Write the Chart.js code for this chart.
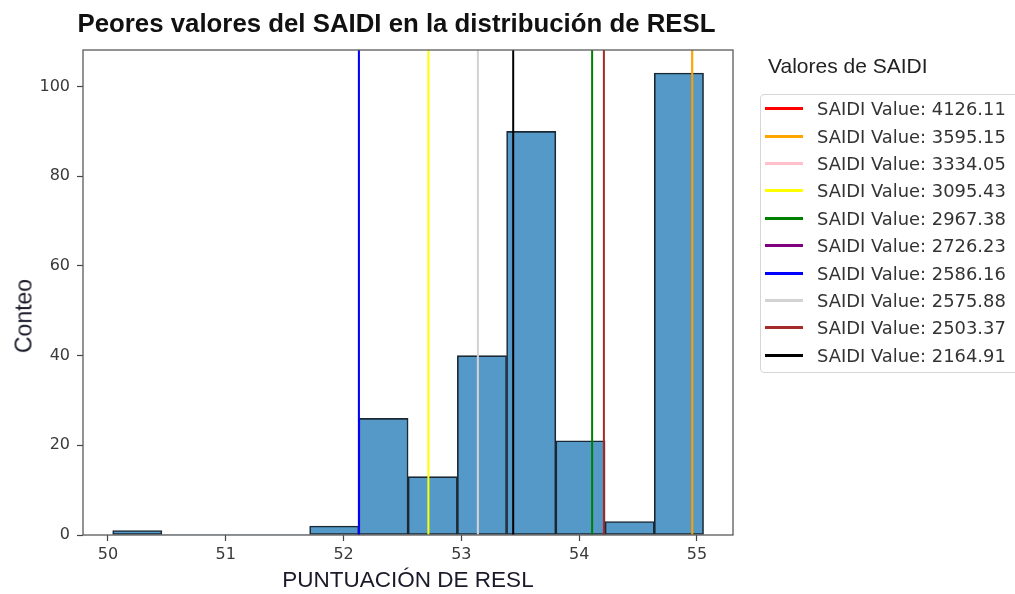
<!DOCTYPE html>
<html>
<head>
<meta charset="utf-8">
<script src="https://cdn.jsdelivr.net/npm/chart.js@4.4.1/dist/chart.umd.min.js"></script>
<style>
  html, body { margin: 0; padding: 0; background: #fff; }
  #wrap { position: relative; width: 1015px; height: 594px; overflow: hidden; }
  #chart { position: absolute; left: 0; top: 0; }
  #title {
    position: absolute; left: 0; top: 10px; width: 793px;
    text-align: center; white-space: nowrap;
    font: bold 25.8px/26px "Liberation Sans", Arial, sans-serif; color: #111;
  }
  #yTitle {
    position: absolute; left: 24px; top: 316px; white-space: nowrap;
    transform: translate(-50%, -50%) rotate(-90deg);
    font: 23px/23px "Liberation Sans", Arial, sans-serif; color: #1a1a2a;
  }
  #legendTitle {
    position: absolute; left: 768px; top: 55px; white-space: nowrap;
    font: 21px/21px "Liberation Sans", Arial, sans-serif; color: #222;
  }
  #legend {
    position: absolute; left: 760px; top: 94px; width: 270px; height: 279px;
    border: 1px solid #d6d6d6; border-radius: 4px; box-sizing: border-box;
  }
  .row { display: flex; align-items: center; height: 27.4px; white-space: nowrap; }
  .swatch { width: 38px; height: 3px; margin-left: 4px; margin-right: 14px; }
  .lbl { font: 17.9px "DejaVu Sans", sans-serif; color: #333; }
</style>
</head>
<body>
<div id="wrap">
  <canvas id="chart" width="1015" height="594"></canvas>
  <div id="title">Peores valores del SAIDI en la distribución de RESL</div>
  <div id="yTitle">Conteo</div>
  <div id="legendTitle">Valores de SAIDI</div>
  <div id="legend"></div>
</div>
<script>
// histogram of RESL scores: 12 equal bins
const binStart = 50.04;
const binWidth = 0.418;
const binCounts = [1, 0, 0, 0, 2, 26, 13, 40, 90, 21, 3, 103];

// worst SAIDI values and the RESL score where each one falls
const saidiValues = [4126.11, 3595.15, 3334.05, 3095.43, 2967.38, 2726.23, 2586.16, 2575.88, 2503.37, 2164.91];
const saidiScores = [54.96, 54.96, 53.14, 52.72, 54.11, 52.13, 52.13, 53.14, 54.21, 53.44];
const saidiColors = ["red", "orange", "pink", "yellow", "green", "purple", "blue", "lightgray", "brown", "black"];

const xTicks = [50, 51, 52, 53, 54, 55];
const yTicks = [0, 20, 40, 60, 80, 100];

const xMin = 49.788, xMax = 55.306;
const yMax = 108.15;

const histData = binCounts.map((c, i) => ({ x: binStart + (i + 0.5) * binWidth, y: c }));

const datasets = [{
    type: "bar",
    label: "RESL",
    data: histData,
    order: 100,
    backgroundColor: "#5599c8",
    borderColor: "#1a2833",
    borderWidth: ctx => (binCounts[ctx.dataIndex] ? 1.6 : 0),
    borderSkipped: false,
    barPercentage: 1,
    categoryPercentage: 1
}];

// one vertical line per SAIDI value, later ones drawn on top;
// a line that shares its x with a later one is drawn a bit thinner
saidiValues.forEach((v, i) => {
    const covered = saidiScores.indexOf(saidiScores[i], i + 1) !== -1;
    datasets.push({
        type: "line",
        label: "SAIDI Value: " + v.toFixed(2),
        data: [{ x: saidiScores[i], y: 0 }, { x: saidiScores[i], y: yMax }],
        order: -i,
        borderColor: saidiColors[i],
        borderWidth: covered ? 1.2 : 2,
        pointRadius: 0,
        fill: false
    });
});

// box around the plotting area
const frame = {
    id: "frame",
    afterDraw(chart) {
        const { ctx, chartArea: a } = chart;
        ctx.save();
        ctx.strokeStyle = "#5a5a5a";
        ctx.lineWidth = 1.3;
        ctx.strokeRect(a.left, a.top, a.right - a.left, a.bottom - a.top);
        ctx.restore();
    }
};

const tickFont = { family: "DejaVu Sans", size: 16 };

const chart = new Chart(document.getElementById("chart"), {
    data: { datasets },
    options: {
        responsive: false,
        animation: false,
        layout: { padding: { top: 50, right: 282, left: 0, bottom: 0 } },
        plugins: {
            legend: { display: false },
            title: { display: false },
            tooltip: { enabled: false }
        },
        scales: {
            x: {
                type: "linear",
                min: xMin,
                max: xMax,
                offset: false,
                afterBuildTicks: s => { s.ticks = xTicks.map(v => ({ value: v })); },
                afterFit: s => { s.height = 59; },
                ticks: { font: tickFont, color: "#3a3a3a", padding: 4, maxRotation: 0 },
                grid: { offset: false, drawOnChartArea: false, drawTicks: true, tickLength: 6, tickColor: "#444", tickWidth: 1.2 },
                border: { display: false },
                title: {
                    display: true,
                    text: "PUNTUACIÓN DE RESL",
                    font: { family: "Liberation Sans", size: 22.5 },
                    color: "#1a1a2a",
                    padding: { top: 0, bottom: 0 }
                }
            },
            y: {
                type: "linear",
                min: 0,
                max: yMax,
                afterBuildTicks: s => { s.ticks = yTicks.map(v => ({ value: v })); },
                afterFit: s => { s.width = 83; },
                ticks: { font: tickFont, color: "#3a3a3a", padding: 7 },
                grid: { drawOnChartArea: false, drawTicks: true, tickLength: 6, tickColor: "#444", tickWidth: 1.2 },
                border: { display: false }
            }
        }
    },
    plugins: [frame]
});

// legend built from the line datasets
const legend = document.getElementById("legend");
chart.data.datasets.filter(d => d.type === "line").forEach(d => {
    const row = document.createElement("div");
    row.className = "row";
    const sw = document.createElement("div");
    sw.className = "swatch";
    sw.style.background = d.borderColor;
    const lbl = document.createElement("span");
    lbl.className = "lbl";
    lbl.textContent = d.label;
    row.appendChild(sw);
    row.appendChild(lbl);
    legend.appendChild(row);
});
</script>
</body>
</html>
